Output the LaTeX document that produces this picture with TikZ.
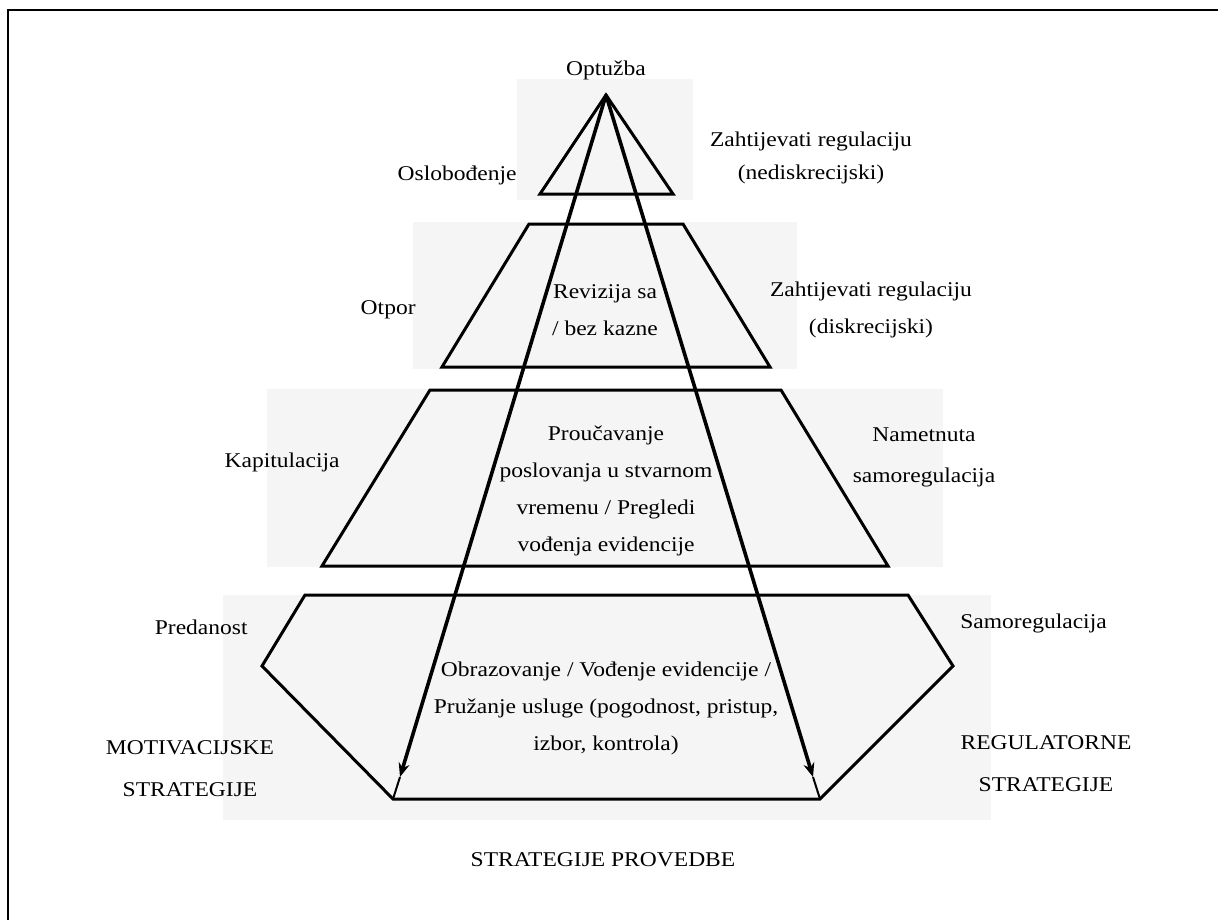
\documentclass[tikz,border=0pt]{standalone}
\usepackage{fontspec}
\setmainfont{Liberation Serif}[FakeStretch=1.12]
\usetikzlibrary{arrows.meta}
\definecolor{panelgrey}{RGB}{245,245,245}

\begin{document}
\begin{tikzpicture}[x=0.5pt, y=-0.5pt, >={Stealth[length=7pt,width=5.5pt]},
    level/.style={line width=1.5pt, line join=miter},
    panel/.style={fill=panelgrey},
    lbl/.style={font=\fontsize{10.5}{18.5}\selectfont, align=center, inner sep=0pt}]
    \useasboundingbox (0,0) rectangle (1218,920);

    % Frame (top and left edge)
    \draw[line width=1pt] (1218,10) -- (8,10) -- (8,920);

    % Grey panels behind the levels
    \fill[panel] (517,79) rectangle (693,200);
    \fill[panel] (413,222) rectangle (797,369);
    \fill[panel] (267,389) rectangle (943,567);
    \fill[panel] (223,595) rectangle (991,820);

    % Level 1 (triangle)
    \draw[level] (606,95) -- (673,194) -- (540,194) -- cycle;

    % Level 2
    \draw[level] (529,224) -- (683,224) -- (770,367) -- (442,367) -- cycle;

    % Level 3
    \draw[level] (430,390) -- (781,390) -- (888,566) -- (322,566) -- cycle;

    % Level 4
    \draw[level] (305,595) -- (908,595) -- (953,666) -- (820,799)
        -- (393,799) -- (262,666) -- cycle;

    % Arrows from the apex
    \coordinate (apex) at (606,95);
    \coordinate (tipL) at (400,777);
    \coordinate (cornerL) at (393,799);
    \coordinate (tipR) at (813,777);
    \coordinate (cornerR) at (820,799);
    \draw[line width=1.8pt, ->] (apex) -- (tipL);
    \draw[line width=1pt] (tipL) -- (cornerL);
    \draw[line width=1.8pt, ->] (apex) -- (tipR);
    \draw[line width=1pt] (tipR) -- (cornerR);

    % Labels, level 1
    \node[lbl] (optuzba) at (606,70) {Optužba};
    \node[lbl, anchor=east] (oslobodenje) at (517,175) {Oslobođenje};
    \node[lbl, font=\fontsize{10.5}{16.5}\selectfont] (nediskr) at (811,158)
        {Zahtijevati regulaciju\\(nediskrecijski)};

    % Labels, level 2
    \node[lbl, anchor=east] (otpor) at (416,310) {Otpor};
    \node[lbl] (revizija) at (605,310) {Revizija sa\\/ bez kazne};
    \node[lbl] (diskr) at (871,310) {Zahtijevati regulaciju\\(diskrecijski)};

    % Labels, level 3
    \node[lbl, anchor=east] (kapitulacija) at (340,462) {Kapitulacija};
    \node[lbl] (proucavanje) at (606,491)
        {Proučavanje\\poslovanja u stvarnom\\vremenu / Pregledi\\vođenja evidencije};
    \node[lbl, font=\fontsize{10.5}{20.5}\selectfont] (nametnuta) at (924,457)
        {Nametnuta\\samoregulacija};

    % Labels, level 4
    \node[lbl, anchor=east] (predanost) at (248,627) {Predanost};
    \node[lbl, anchor=west] (samoreg) at (960,623) {Samoregulacija};
    \node[lbl] (obrazovanje) at (606,708)
        {Obrazovanje / Vođenje evidencije /\\Pružanje usluge (pogodnost, pristup,\\izbor, kontrola)};
    \node[lbl, font=\fontsize{10.5}{21}\selectfont] (motiv) at (190,769)
        {MOTIVACIJSKE\\STRATEGIJE};
    \node[lbl, font=\fontsize{10.5}{21}\selectfont] (regul) at (1046,764)
        {REGULATORNE\\STRATEGIJE};

    % Caption
    \node[lbl] (provedba) at (603,860) {STRATEGIJE PROVEDBE};
\end{tikzpicture}
\end{document}
